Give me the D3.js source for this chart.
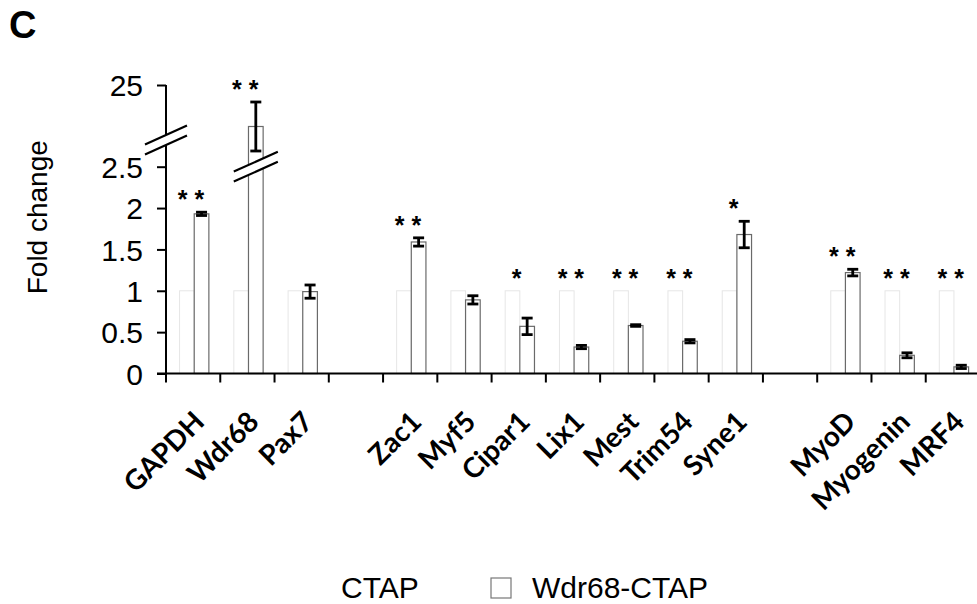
<!DOCTYPE html>
<html>
<head>
<meta charset="utf-8">
<script src="https://cdn.jsdelivr.net/npm/d3@7"></script>
<style>
  body { margin: 0; background: #fff; }
  svg { display: block; }
</style>
</head>
<body>
<div id="chart"></div>
<script>
// slots along the x axis (two empty slots separate the gene groups)
const slots = ["GAPDH", "Wdr68", "Pax7", "gap1", "Zac1", "Myf5", "Cipar1", "Lix1", "Mest", "Trim54", "Syne1", "gap2", "MyoD", "Myogenin", "MRF4"];
const categories = ["GAPDH", "Wdr68", "Pax7", "Zac1", "Myf5", "Cipar1", "Lix1", "Mest", "Trim54", "Syne1", "MyoD", "Myogenin", "MRF4"];
const seriesNames = ["CTAP", "Wdr68-CTAP"];
const ctapValues = [1, 1, 1, 1, 1, 1, 1, 1, 1, 1, 1, 1, 1];
const wdrValues = [1.93, 16.7, 0.99, 1.59, 0.89, 0.57, 0.32, 0.58, 0.39, 1.68, 1.22, 0.22, 0.08];
const wdrErrors = [0.02, 4.9, 0.08, 0.05, 0.05, 0.10, 0.02, 0.01, 0.02, 0.16, 0.04, 0.03, 0.02];
const signif = ["**", "**", "", "**", "", "*", "**", "**", "**", "*", "**", "**", "**"];
const lowerTicks = [0, 0.5, 1, 1.5, 2, 2.5];
const upperTicks = [25];

const W = 977, H = 604;
const svg = d3.select("#chart").append("svg").attr("width", W).attr("height", H);

// broken y axis: lower part 0-2.5, upper part 10-25
const yLow = d3.scaleLinear().domain([0, 2.5]).range([373.5, 166.7]);
const yHigh = d3.scaleLinear().domain([10, 25]).range([160, 85]);
const yOf = v => v <= 2.5 ? yLow(v) : yHigh(v);

const x = d3.scaleBand().domain(slots).range([166, 980]).paddingInner(0).paddingOuter(0);
const bw = x.bandwidth();
const xSub = d3.scaleBand().domain(seriesNames).range([bw * 0.25, bw * 0.79]);

const data = categories.map((c, i) => ({
  name: c, ctap: ctapValues[i], wdr: wdrValues[i], err: wdrErrors[i], sig: signif[i]
}));

// panel letter
svg.append("text").attr("x", 9).attr("y", 38)
  .style("font-family", "Liberation Sans, Arial, sans-serif")
  .style("font-weight", "bold").style("font-size", "38px").text("C");

// y label
svg.append("text")
  .attr("transform", `translate(47,${(yLow(0) + yHigh(25)) / 2 - 12}) rotate(-90)`)
  .attr("text-anchor", "middle")
  .style("font-family", "Liberation Sans, Arial, sans-serif")
  .style("font-size", "28px").text("Fold change");

// CTAP bars (very faint in the print)
svg.selectAll(".ctap").data(data).enter().append("rect")
  .attr("class", "ctap")
  .attr("x", d => x(d.name) + xSub("CTAP"))
  .attr("width", xSub.bandwidth())
  .attr("y", d => yOf(d.ctap))
  .attr("height", d => yLow(0) - yOf(d.ctap))
  .attr("fill", "#fff")
  .attr("stroke", "#e6e6e6").attr("stroke-width", 1);

// Wdr68-CTAP bars
svg.selectAll(".wdr").data(data).enter().append("rect")
  .attr("class", "wdr")
  .attr("x", d => x(d.name) + xSub("Wdr68-CTAP"))
  .attr("width", xSub.bandwidth())
  .attr("y", d => yOf(d.wdr))
  .attr("height", d => yLow(0) - yOf(d.wdr))
  .attr("fill", "#fff")
  .attr("stroke", "#6a6a6a").attr("stroke-width", 1.2);

// error bars
const eb = svg.selectAll(".err").data(data).enter().append("g").attr("class", "err")
  .attr("stroke", "#000").attr("stroke-width", 2.8);
const cx = d => x(d.name) + xSub("Wdr68-CTAP") + xSub.bandwidth() / 2;
eb.append("line").attr("x1", cx).attr("x2", cx)
  .attr("y1", d => yOf(d.wdr + d.err)).attr("y2", d => yOf(d.wdr - d.err));
eb.append("line").attr("x1", d => cx(d) - 5.5).attr("x2", d => cx(d) + 5.5)
  .attr("y1", d => yOf(d.wdr + d.err)).attr("y2", d => yOf(d.wdr + d.err));
eb.append("line").attr("x1", d => cx(d) - 5.5).attr("x2", d => cx(d) + 5.5)
  .attr("y1", d => yOf(d.wdr - d.err)).attr("y2", d => yOf(d.wdr - d.err));

// significance stars
svg.selectAll(".sig").data(data.filter(d => d.sig)).enter().append("text")
  .attr("class", "sig")
  .attr("x", d => x(d.name) + bw * 0.46)
  .attr("y", d => Math.min(yOf(d.ctap), yOf(d.wdr + d.err)) - 4)
  .attr("text-anchor", "middle")
  .style("font-family", "Liberation Sans, Arial, sans-serif")
  .style("font-weight", "bold").style("font-size", "25px")
  .text(d => d.sig.split("").join(" "));

// y axis (lower segment + upper segment, one continuous line)
const yAxisLow = d3.axisLeft(yLow).tickValues(lowerTicks).tickSize(9).tickPadding(14)
  .tickFormat(d => d);
const yAxisHigh = d3.axisLeft(yHigh).tickValues(upperTicks).tickSize(9).tickPadding(14);
const gyl = svg.append("g").attr("transform", "translate(166,0)").call(yAxisLow);
const gyh = svg.append("g").attr("transform", "translate(166,0)").call(yAxisHigh);
[gyl, gyh].forEach(g => {
  g.select(".domain").remove();
  g.selectAll("line").attr("stroke", "#000").attr("stroke-width", 2);
  g.selectAll("text").style("font-family", "Liberation Sans, Arial, sans-serif")
    .style("font-size", "30px").attr("fill", "#000").attr("dy", "0.36em");
});
svg.append("line").attr("x1", 166).attr("x2", 166)
  .attr("y1", yHigh(25)).attr("y2", yLow(0) + 1)
  .attr("stroke", "#000").attr("stroke-width", 2);

// x axis with ticks between slots
const xTicks = d3.range(slots.length + 1).map(i => 166 + i * bw);
svg.append("line").attr("x1", 157).attr("x2", 977)
  .attr("y1", yLow(0)).attr("y2", yLow(0))
  .attr("stroke", "#000").attr("stroke-width", 2);
svg.selectAll(".xt").data(xTicks).enter().append("line")
  .attr("x1", d => d).attr("x2", d => d)
  .attr("y1", yLow(0)).attr("y2", yLow(0) + 9)
  .attr("stroke", "#000").attr("stroke-width", 2);

// rotated category labels
svg.selectAll(".xl").data(categories).enter().append("text")
  .attr("transform", d => `translate(${x(d) + bw / 2 + 13},${yLow(0) + 50}) rotate(-45)`)
  .attr("text-anchor", "end")
  .style("font-family", "Lato, 'Open Sans', sans-serif")
  .style("font-weight", "bold").style("font-size", "28px")
  .text(d => d);

// axis break marks
function breakMark(cxp, cyp, halfW) {
  const dy = 0.45 * halfW;
  const g = svg.append("g");
  g.append("polygon")
    .attr("points", [[cxp - halfW, cyp + dy - 5], [cxp + halfW, cyp - dy - 5], [cxp + halfW, cyp - dy + 5], [cxp - halfW, cyp + dy + 5]].join(" "))
    .attr("fill", "#fff");
  [-5, 5].forEach(o => g.append("line")
    .attr("x1", cxp - halfW).attr("y1", cyp + dy + o)
    .attr("x2", cxp + halfW).attr("y2", cyp - dy + o)
    .attr("stroke", "#000").attr("stroke-width", 2.2));
}
breakMark(166, yHigh(14), 21);
breakMark(x("Wdr68") + xSub("Wdr68-CTAP") + xSub.bandwidth() / 2, yLow(2.5), 22);

// legend
const lg = svg.append("g").style("font-family", "Liberation Sans, Arial, sans-serif").style("font-size", "30px");
lg.append("text").attr("x", 341).attr("y", 598).text(seriesNames[0]);
lg.append("rect").attr("x", 491).attr("y", 578).attr("width", 20).attr("height", 20)
  .attr("fill", "#fff").attr("stroke", "#777").attr("stroke-width", 1.2);
lg.append("text").attr("x", 532).attr("y", 598).text(seriesNames[1]);
</script>
</body>
</html>
